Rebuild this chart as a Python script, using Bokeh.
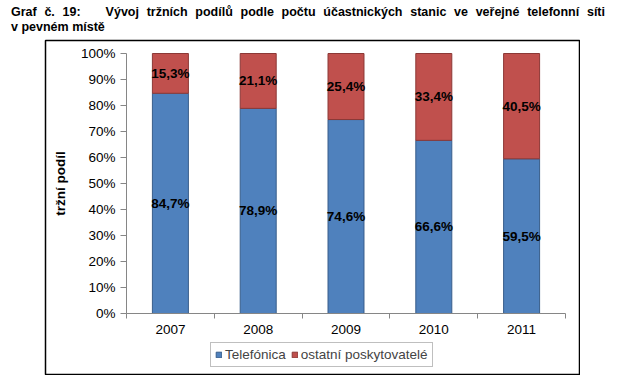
from bokeh.plotting import figure
from bokeh.layouts import column
from bokeh.models import (ColumnDataSource, FixedTicker, PrintfTickFormatter, LabelSet,
                          Legend, LegendItem, Range1d, Div)
from bokeh.core.properties import value
from bokeh.embed import file_html
from bokeh.resources import INLINE

years = ["2007", "2008", "2009", "2010", "2011"]
telefonica = [84.7, 78.9, 74.6, 66.6, 59.5]
ostatni = [15.3, 21.1, 25.4, 33.4, 40.5]
y_ticks = [0, 10, 20, 30, 40, 50, 60, 70, 80, 90, 100]
title_label = "Graf č. 19:"
title_line1 = "Vývoj tržních podílů podle počtu účastnických stanic ve veřejné telefonní síti"
title_line2 = "v pevném místě"

FONT = "Liberation Sans"
GRAY = "#868686"

# ---- title (justified paragraph, as in the source document) ----
title_html = (
    f'<div style="width:594px;font-family:\'{FONT}\';font-size:12.5px;font-weight:bold;'
    f'color:black;line-height:15px;padding-top:5px;">'
    f'<div style="width:594px;text-align:justify;text-align-last:justify;">'
    f'{title_label}&emsp;&emsp;{title_line1}</div>'
    f'<div>{title_line2}</div></div>'
)
title = Div(text=title_html, width=594, height=39, margin=(0, 0, 0, 11),
            styles={"width": "594px", "overflow": "visible"})

# ---- chart (the plot frame is the framed chart box) ----
BOX_W, BOX_H = 534, 334                 # chart box in px
AREA_L, AREA_R, AREA_T, AREA_B = 81, 14, 13, 61   # plot area insets inside the box
AREA_W = BOX_W - AREA_L - AREA_R
AREA_H = BOX_H - AREA_T - AREA_B
x_lo, x_hi = -0.5, len(years) - 0.5
y_lo, y_hi = 0, 100
px_x = AREA_W / (x_hi - x_lo)
px_y = AREA_H / (y_hi - y_lo)
x_range = Range1d(x_lo - AREA_L / px_x, x_hi + AREA_R / px_x)
y_range = Range1d(y_lo - AREA_B / px_y, y_hi + AREA_T / px_y)

idx = list(range(len(years)))
fmt = lambda v: ("%.1f" % v).replace(".", ",") + "%"
src = ColumnDataSource(dict(
    x=idx,
    tel=telefonica,
    top=[t + o for t, o in zip(telefonica, ostatni)],
    tel_mid=[t / 2 for t in telefonica],
    ost_mid=[t + o / 2 for t, o in zip(telefonica, ostatni)],
    tel_lab=[fmt(v) for v in telefonica],
    ost_lab=[fmt(v) for v in ostatni],
))

p = figure(width=BOX_W + 2, height=BOX_H + 2, output_backend="svg", toolbar_location=None,
           title=None, x_range=x_range, y_range=y_range,
           min_border_left=1, min_border_right=1, min_border_top=1, min_border_bottom=1)
p.outline_line_color = "black"
p.outline_line_width = 1.5
p.background_fill_color = "white"
p.border_fill_color = "white"
p.xgrid.visible = False
p.ygrid.visible = False
p.margin = (0, 0, 0, 44)

r1 = p.vbar(x="x", width=0.41, bottom=0, top="tel", source=src,
            fill_color="#4F81BD", line_color="#385D8A", line_width=1)
r2 = p.vbar(x="x", width=0.41, bottom="tel", top="top", source=src,
            fill_color="#C0504D", line_color="#8C3836", line_width=1)

for col_y, col_t in (("tel_mid", "tel_lab"), ("ost_mid", "ost_lab")):
    p.add_layout(LabelSet(x="x", y=col_y, text=col_t, source=src,
                          text_align="center", text_baseline="middle",
                          text_font=value(FONT), text_font_size="13.5px",
                          text_font_style="bold", text_color="black"))

xa = p.xaxis[0]
xa.fixed_location = y_lo
xa.bounds = (x_lo, x_hi)
xa.ticker = FixedTicker(ticks=idx, minor_ticks=[i - 0.5 for i in range(len(years) + 1)])
xa.major_label_overrides = {i: y for i, y in zip(idx, years)}
xa.major_tick_line_color = None
xa.major_tick_in = 0
xa.major_tick_out = 0
xa.minor_tick_in = 0
xa.minor_tick_out = 5
xa.minor_tick_line_color = GRAY
xa.axis_line_color = GRAY
xa.major_label_standoff = 6
xa.major_label_text_font = FONT
xa.major_label_text_font_size = "13.5px"
xa.major_label_text_color = "black"

ya = p.yaxis[0]
ya.fixed_location = x_lo
ya.bounds = (y_lo, y_hi)
ya.ticker = FixedTicker(ticks=y_ticks, minor_ticks=[])
ya.formatter = PrintfTickFormatter(format="%d%%")
ya.major_tick_in = 0
ya.major_tick_out = 6
ya.major_tick_line_color = GRAY
ya.minor_tick_line_color = None
ya.axis_line_color = GRAY
ya.major_label_standoff = 5
ya.major_label_text_font = FONT
ya.major_label_text_font_size = "13.5px"
ya.major_label_text_color = "black"
ya.axis_label = "tržní podíl"
ya.axis_label_text_font = FONT
ya.axis_label_text_font_size = "13.5px"
ya.axis_label_text_font_style = "bold"
ya.axis_label_text_color = "black"
ya.axis_label_standoff = 10

legend = Legend(items=[LegendItem(label="Telefónica", renderers=[r1]),
                       LegendItem(label="ostatní poskytovatelé", renderers=[r2])],
                orientation="horizontal", location=(165, 7), padding=4,
                border_line_color="#808080", border_line_width=1,
                background_fill_color="white",
                glyph_width=7, glyph_height=7, label_standoff=3, spacing=5,
                label_text_font=FONT, label_text_font_size="13.5px")
p.add_layout(legend)

layout = column(title, p, spacing=0)
open("out.html", "w").write(file_html(layout, INLINE))
